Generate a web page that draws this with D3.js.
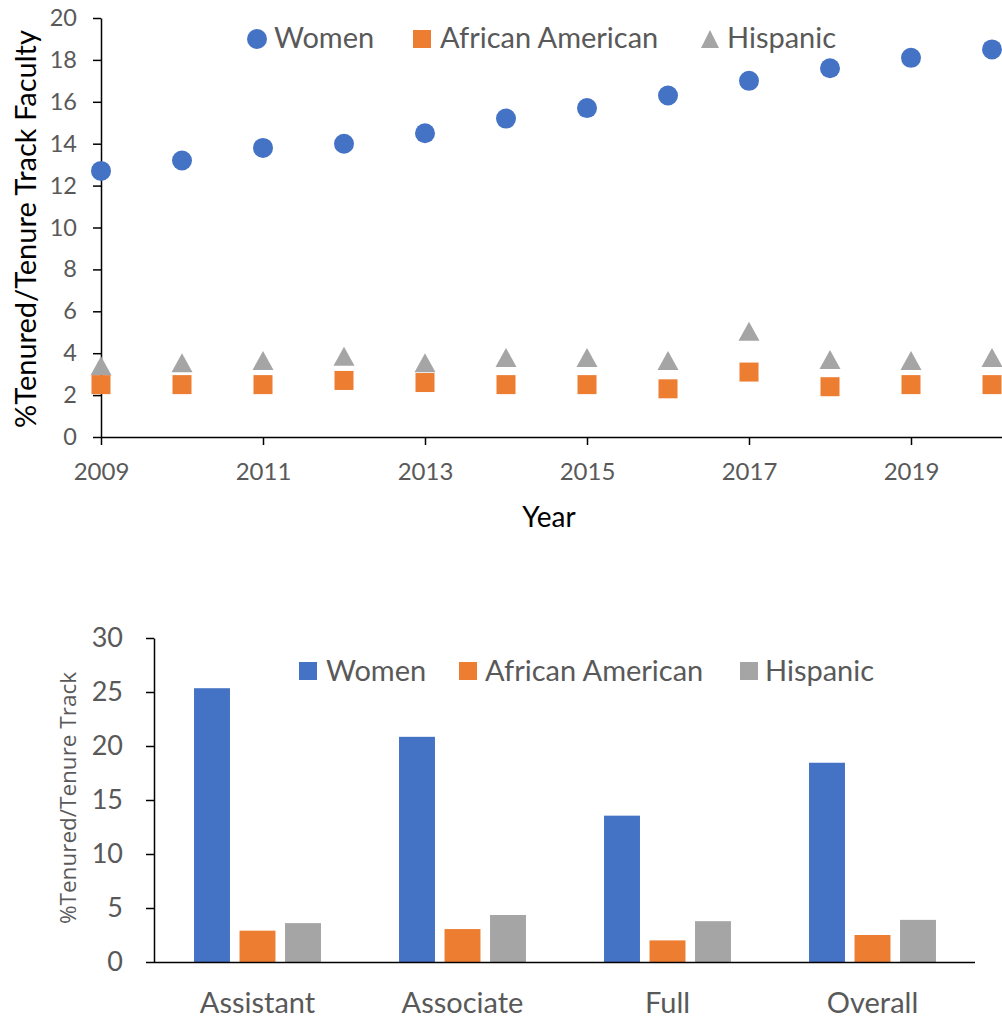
<!DOCTYPE html>
<html><head><meta charset="utf-8">
<script src="https://cdn.jsdelivr.net/npm/d3@7/dist/d3.min.js"></script>
<style>
html,body{margin:0;padding:0;background:#fff;}
svg{display:block;font-family:Lato, "Open Sans", sans-serif;}
</style></head>
<body>
<svg id="chart" width="1002" height="1018"></svg>
<script>
// ---------- DATA ----------
const years = [2009,2010,2011,2012,2013,2014,2015,2016,2017,2018,2019,2020];
const womenPct    = [12.7,13.2,13.8,14.0,14.5,15.2,15.7,16.3,17.0,17.6,18.1,18.5];
const africanPct  = [2.5,2.5,2.5,2.7,2.6,2.5,2.5,2.3,3.1,2.4,2.5,2.5];
const hispanicPct = [3.4,3.55,3.65,3.85,3.55,3.8,3.8,3.65,5.05,3.7,3.65,3.8];
const yearTicks = [2009,2011,2013,2015,2017,2019];
const topYTicks = [0,2,4,6,8,10,12,14,16,18,20];

const ranks = ["Assistant","Associate","Full","Overall"];
const rankWomen    = [25.35,20.85,13.55,18.45];
const rankAfrican  = [2.9,3.05,2.0,2.5];
const rankHispanic = [3.6,4.35,3.78,3.9];
const bottomYTicks = [0,5,10,15,20,25,30];

const seriesNames = ["Women","African American","Hispanic"];
const colors = ["#4472C4","#ED7D31","#A5A5A5"];
const textGrey = "#595959";

const svg = d3.select("#chart");

// ---------- TOP SCATTER ----------
const tx = d3.scaleLinear().domain([2009, 2020 + 10/81]).range([101, 1002]);
const ty = d3.scaleLinear().domain([0,20]).range([437,18]);
const gTop = svg.append("g");

const tyAxis = gTop.append("g").attr("transform","translate(101,0)")
  .call(d3.axisLeft(ty).tickValues(topYTicks).tickSize(8).tickSizeOuter(0).tickPadding(16));
tyAxis.select(".domain").attr("stroke","#000").attr("stroke-width",1.5);
tyAxis.selectAll(".tick line").attr("stroke","#000").attr("stroke-width",1.5);
tyAxis.selectAll(".tick text").attr("fill",textGrey).style("font-size","23.5px").style("font-family","Lato");

const txAxis = gTop.append("g").attr("transform","translate(0,437)")
  .call(d3.axisBottom(tx).tickValues(yearTicks).tickFormat(d3.format("d")).tickSize(8).tickSizeOuter(0).tickPadding(18));
txAxis.select(".domain").attr("stroke","#000").attr("stroke-width",1.5);
txAxis.selectAll(".tick line").attr("stroke","#000").attr("stroke-width",1.5);
txAxis.selectAll(".tick text").attr("fill",textGrey).style("font-size","24px").style("font-family","Lato");

gTop.append("text").attr("transform","translate(36,229) rotate(-90)")
  .attr("text-anchor","middle").style("font-size","29px").attr("fill","#000")
  .text("%Tenured/Tenure Track Faculty");
gTop.append("text").attr("x",549).attr("y",527).attr("text-anchor","middle")
  .style("font-size","28px").attr("fill","#000").text("Year");

const triPath = (cx, cy, w, h) => `M${cx},${cy-h/2}L${cx+w/2},${cy+h/2}L${cx-w/2},${cy+h/2}Z`;

gTop.append("g").selectAll("path").data(years).join("path")
  .attr("d",(d,i)=>triPath(tx(d), ty(hispanicPct[i]), 21, 19))
  .attr("fill",colors[2]);
gTop.append("g").selectAll("rect").data(years).join("rect")
  .attr("x",d=>tx(d)-9.5).attr("y",(d,i)=>ty(africanPct[i])-9.5)
  .attr("width",19).attr("height",19).attr("fill",colors[1]);
gTop.append("g").selectAll("circle").data(years).join("circle")
  .attr("cx",d=>tx(d)).attr("cy",(d,i)=>ty(womenPct[i])).attr("r",10)
  .attr("fill",colors[0]);

const topLegendX = [257, 422, 710];
const topLegendTextX = [274, 440, 727];
const tl = gTop.append("g");
tl.append("circle").attr("cx",topLegendX[0]).attr("cy",39).attr("r",10).attr("fill",colors[0]);
tl.append("rect").attr("x",topLegendX[1]-9).attr("y",30).attr("width",18).attr("height",18).attr("fill",colors[1]);
tl.append("path").attr("d",triPath(topLegendX[2],39,18,18)).attr("fill",colors[2]);
seriesNames.forEach((n,i)=>{
  tl.append("text").attr("x",topLegendTextX[i]).attr("y",48)
    .style("font-size","29px").attr("fill",textGrey).text(n);
});

// ---------- BOTTOM BAR CHART ----------
const bx = d3.scaleBand().domain(ranks).range([155,975]).paddingInner(0).paddingOuter(0);
const bInner = d3.scaleBand().domain(seriesNames).range([-68.25,68.25]).paddingInner(0.21).paddingOuter(0.105);
const by = d3.scaleLinear().domain([0,30]).range([962,638]);
const gBot = svg.append("g");

const byAxis = gBot.append("g").attr("transform","translate(154,0)")
  .call(d3.axisLeft(by).tickValues(bottomYTicks).tickSize(8).tickSizeOuter(0).tickPadding(23));
byAxis.select(".domain").attr("stroke","#000").attr("stroke-width",1.5);
byAxis.selectAll(".tick line").attr("stroke","#000").attr("stroke-width",1.5);
byAxis.selectAll(".tick text").attr("fill",textGrey).style("font-size","27px").style("font-family","Lato");

const bVals = [rankWomen, rankAfrican, rankHispanic];
seriesNames.forEach((s,si)=>{
  gBot.append("g").selectAll("rect").data(ranks).join("rect")
    .attr("x",d=>bx(d)+bx.bandwidth()/2+bInner(s))
    .attr("width",bInner.bandwidth())
    .attr("y",(d,i)=>by(bVals[si][i]))
    .attr("height",(d,i)=>by(0)-by(bVals[si][i]))
    .attr("fill",colors[si]);
});

const bxAxis = gBot.append("g").attr("transform","translate(0,962)")
  .call(d3.axisBottom(bx).tickSize(0).tickSizeOuter(0).tickPadding(30));
bxAxis.select(".domain").attr("d","M154,0.5H975").attr("stroke","#000").attr("stroke-width",1.5);
bxAxis.selectAll(".tick text").attr("fill",textGrey).style("font-size","29px").style("font-family","Lato");

gBot.append("text").attr("transform","translate(76,798) rotate(-90)")
  .attr("text-anchor","middle").style("font-size","22.5px").style("font-family","'Open Sans'")
  .attr("fill",textGrey).text("%Tenured/Tenure Track");

const botLegendX = [299, 459, 740];
const botLegendTextX = [326, 485, 765];
seriesNames.forEach((n,i)=>{
  gBot.append("rect").attr("x",botLegendX[i]).attr("y",662).attr("width",18).attr("height",18).attr("fill",colors[i]);
  gBot.append("text").attr("x",botLegendTextX[i]).attr("y",681)
    .style("font-size","29px").attr("fill",textGrey).text(n);
});
</script>
</body></html>
